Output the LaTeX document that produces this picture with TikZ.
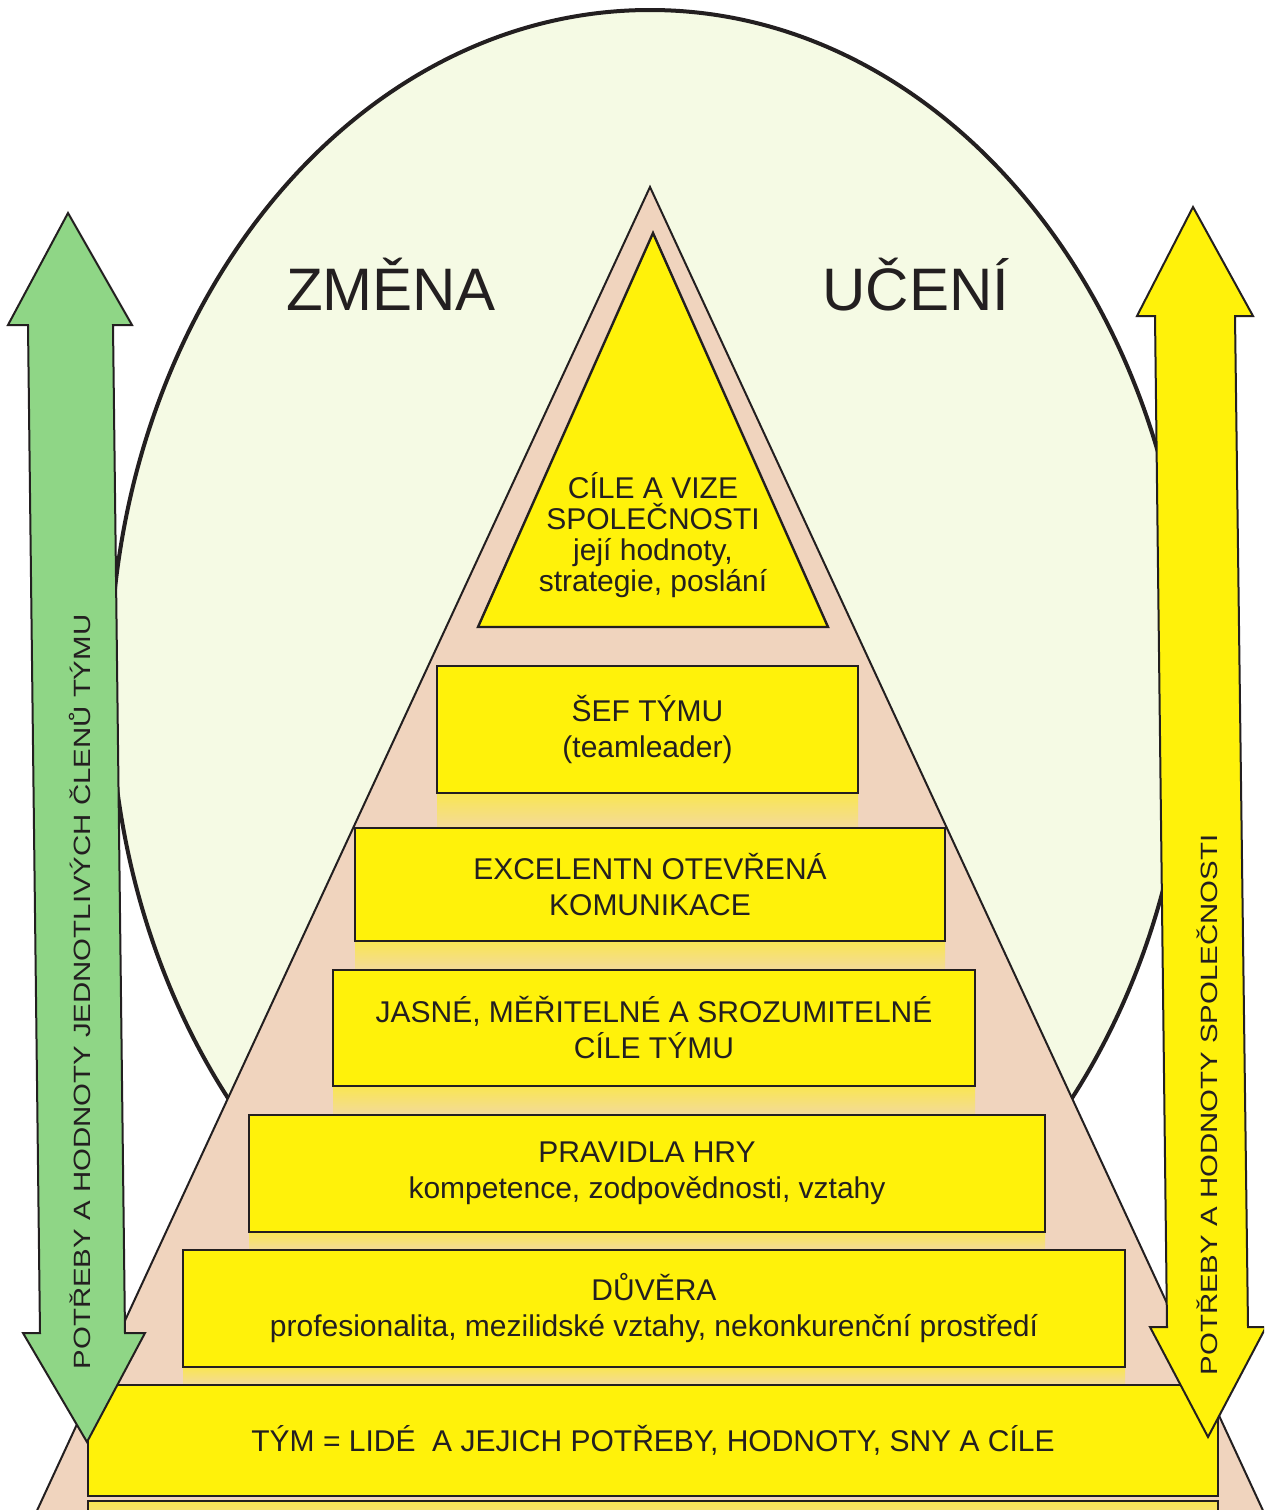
\documentclass[tikz,border=0pt]{standalone}
\usepackage{fontspec}
\setmainfont{Liberation Sans}

\definecolor{paper}{RGB}{245,250,228}
\definecolor{peach}{RGB}{240,212,190}
\definecolor{lemon}{RGB}{255,242,10}
\definecolor{leaf}{RGB}{143,214,134}
\definecolor{ink}{RGB}{35,31,32}

\begin{document}
\begin{tikzpicture}[x=0.5pt,y=-0.5pt,
  tier/.style={draw=ink,line width=1.4pt,fill=lemon,text=ink,align=center,
    font=\fontsize{15}{18}\selectfont,inner sep=0pt},
  glow/.style={top color=lemon!60!peach,bottom color=peach!80!lemon},
  big/.style={font=\fontsize{30}{36}\selectfont,text=ink,anchor=base},
  side/.style={font=\fontsize{14.7}{16}\selectfont,text=ink,rotate=90}]
\useasboundingbox (0,0) rectangle (1264,1510);
\clip (0,0) rectangle (1264,1510);
\fill[white] (0,0) rectangle (1264,1510);

\draw[fill=paper,draw=ink,line width=2pt] (650,680) ellipse [x radius=540, y radius=670];
\node[big] (zmena) at (391,310) {ZMĚNA};
\node[big] (uceni) at (916,310) {UČENÍ};

\draw[fill=peach,draw=ink,line width=1pt] (650,187) -- (1272,1530) -- (28,1530) -- cycle;
\draw[fill=lemon,draw=ink,line width=1.2pt] (653,233) -- (828,627) -- (478,627) -- cycle;
\node[text=ink,align=center,font=\fontsize{15}{15.6}\selectfont] (vize) at (653,535)
  {CÍLE A VIZE\\SPOLEČNOSTI\\její hodnoty,\\strategie, poslání};

\fill[glow] (437,793) rectangle (858,828);
\fill[glow] (355,941) rectangle (945,970);
\fill[glow] (333,1086) rectangle (975,1115);
\fill[glow] (249,1232) rectangle (1045,1250);
\fill[glow] (183,1367) rectangle (1125,1385);
\draw[ink,line width=1pt,glow] (88,1501) rectangle (1218,1530);

\node[tier,minimum width=210.5pt,minimum height=63.5pt] (sef) at (647.5,729.5)
  {ŠEF TÝMU\\(teamleader)};
\node[tier,minimum width=295pt,minimum height=56.5pt] (komunikace) at (650,884.5)
  {EXCELENTN OTEVŘENÁ\\KOMUNIKACE};
\node[tier,minimum width=321pt,minimum height=58pt] (cile) at (654,1028)
  {JASNÉ, MĚŘITELNÉ A SROZUMITELNÉ\\CÍLE TÝMU};
\node[tier,minimum width=398pt,minimum height=58.5pt] (pravidla) at (647,1173.5)
  {PRAVIDLA HRY\\kompetence, zodpovědnosti, vztahy};
\node[tier,minimum width=471pt,minimum height=58.5pt] (duvera) at (654,1308.5)
  {DŮVĚRA\\profesionalita, mezilidské vztahy, nekonkurenční prostředí};
\node[tier,minimum width=565pt,minimum height=55.5pt] (tym) at (653,1440.5)
  {TÝM = LIDÉ\ \ A JEJICH POTŘEBY, HODNOTY, SNY A CÍLE};

\draw[fill=leaf,draw=ink,line width=1pt] (68,213) -- (132,325) -- (113,325) -- (125,1333)
  -- (145,1333) -- (87,1442) -- (23,1333) -- (40,1333) -- (28,325) -- (8,325) -- cycle;
\draw[fill=lemon,draw=ink,line width=1pt] (1193,207) -- (1253,316) -- (1235,316) -- (1248,1327)
  -- (1266,1327) -- (1208,1437) -- (1150,1327) -- (1167,1327) -- (1155,316) -- (1137,316) -- cycle;
\node[side] (clenove) at (80,992) {\scalebox{1}[0.8]{POTŘEBY A HODNOTY JEDNOTLIVÝCH ČLENŮ TÝMU}};
\node[side] (spolecnost) at (1207,1105) {\scalebox{1}[0.8]{POTŘEBY A HODNOTY SPOLEČNOSTI}};
\end{tikzpicture}
\end{document}
